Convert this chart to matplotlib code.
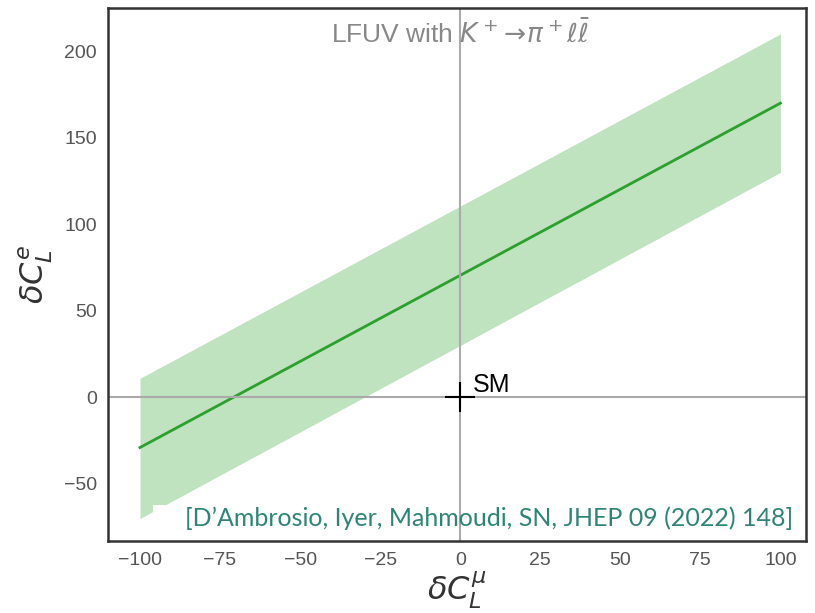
import numpy as np
import matplotlib.pyplot as plt
from matplotlib.patches import Rectangle

plt.rcParams['font.family'] = ['Liberation Sans', 'DejaVu Sans']

# band: dC_e vs dC_mu, central line with upper / lower edges
mu_range = [-100, 100]
center = [-29, 170]
upper = [11, 210]
lower = [-70, 130]
sm_point = (0, 0)

xticks = [-100, -75, -50, -25, 0, 25, 50, 75, 100]
yticks = [-50, 0, 50, 100, 150, 200]

fig = plt.figure(figsize=(8.15, 6.13), dpi=100)
ax = fig.add_axes([0.1325, 0.1175, 0.8565, 0.8695])

ax.axhline(0, color='#aaaaaa', lw=1.5, zorder=2.3)
ax.axvline(0, color='#aaaaaa', lw=1.5, zorder=2.3)

ax.fill_between(mu_range, lower, upper, color='#2ca02c', alpha=0.3, lw=0, zorder=1.5)
ax.plot(mu_range, center, color='#2ca02c', lw=2, zorder=1.6)

# white box under the citation
ax.add_patch(Rectangle((-96, -83), 206, 21, facecolor='white', edgecolor='none', zorder=2.2))

ax.plot(*sm_point, marker='+', color='black', ms=22, mew=1.5, zorder=4)
ax.text(4, 3, 'SM', fontsize=18, color='black', zorder=4)

ax.text(0, 211, r'LFUV with $K^+\!\to\!\pi^+\ell\bar{\ell}$', ha='center', va='center',
        fontsize=19, color='#888888', zorder=5)

ax.text(104, -70, '[D\u2019Ambrosio, Iyer, Mahmoudi, SN, JHEP 09 (2022) 148]',
        ha='right', va='center', fontsize=18, color='#2e8577', family='Lato', zorder=6)

ax.set_xlim(-110, 108)
ax.set_ylim(-83, 225)
ax.set_xticks(xticks)
ax.set_yticks(yticks)
ax.tick_params(labelsize=14, labelcolor='#555555', length=0, pad=8)
for s in ax.spines.values():
    s.set_color('#333333')
    s.set_linewidth(1.8)

ax.set_xlabel(r'$\delta C_L^{\mu}$', fontsize=23, color='#333333', labelpad=0)
ax.set_ylabel(r'$\delta C_L^{e}$', fontsize=23, color='#333333', labelpad=6)

plt.savefig('out.png', dpi=100)
